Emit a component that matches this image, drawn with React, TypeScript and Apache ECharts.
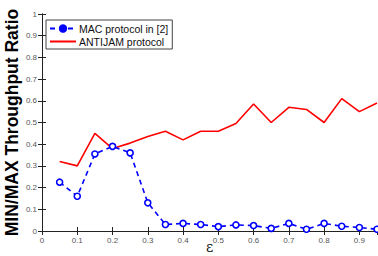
import React, { useEffect, useRef } from "react";
import * as echarts from "echarts";

const epsilon = [0.05, 0.1, 0.15, 0.2, 0.25, 0.3, 0.35, 0.4, 0.45, 0.5, 0.55, 0.6, 0.65, 0.7, 0.75, 0.8, 0.85, 0.9, 0.95];
const macValues = [0.225, 0.16, 0.355, 0.39, 0.36, 0.13, 0.03, 0.035, 0.03, 0.02, 0.028, 0.025, 0.012, 0.035, 0.008, 0.035, 0.022, 0.016, 0.008];
const antijamValues = [0.32, 0.30, 0.45, 0.38, 0.405, 0.435, 0.46, 0.42, 0.46, 0.46, 0.495, 0.585, 0.50, 0.57, 0.56, 0.50, 0.61, 0.55, 0.59];
const seriesNames = ["MAC protocol in [2]", "ANTIJAM protocol"];

export default function App() {
  const ref = useRef<HTMLDivElement>(null);
  useEffect(() => {
    if (!ref.current) return;
    const chart = echarts.init(ref.current, null, { renderer: "svg" });
    const frame = { show: true, lineStyle: { color: "#222", width: 1 } };
    const tickIn = { show: true, inside: true, length: 4, lineStyle: { color: "#222" } };
    const label = { color: "#555", fontSize: 8, fontFamily: "Liberation Sans, Arial, sans-serif" };
    chart.setOption({
      animation: false,
      backgroundColor: "#fff",
      grid: { left: 42, right: 1, top: 14, bottom: 25, containLabel: false, outerBoundsMode: "none" },
      legend: {
        left: 46,
        top: 20,
        orient: "vertical",
        data: [
          { name: seriesNames[0], itemStyle: { color: "#0000ff", borderColor: "#0000ff" } },
          { name: seriesNames[1], itemStyle: { opacity: 0 } },
        ],
        backgroundColor: "#fff",
        borderColor: "#444",
        borderWidth: 1,
        borderRadius: 0,
        padding: [3, 4, 2, 3],
        itemGap: 2,
        itemWidth: 26,
        itemHeight: 8,
        textStyle: { fontSize: 10.5, color: "#111", fontFamily: "Liberation Sans, Arial, sans-serif", padding: [0, 0, 0, -2] },
      },
      xAxis: [
        {
          type: "value",
          min: 0,
          max: 0.95,
          interval: 0.1,
          position: "bottom",
          axisLine: frame,
          axisTick: tickIn,
          splitLine: { show: false },
          axisLabel: { ...label, margin: 5, showMaxLabel: false, formatter: (v: number) => (Math.abs(v - 0.95) < 1e-6 ? "" : String(+v.toFixed(2))) },
          name: "ε",
          nameLocation: "middle",
          nameGap: 9,
          nameMoveOverlap: false,
          nameTextStyle: { fontSize: 14, color: "#111", fontFamily: "DejaVu Serif, serif" },
        },
        {
          type: "value",
          min: 0,
          max: 0.95,
          interval: 0.1,
          position: "top",
          axisLine: frame,
          axisTick: tickIn,
          splitLine: { show: false },
          axisLabel: { show: false },
        },
      ],
      yAxis: [
        {
          type: "value",
          min: 0,
          max: 1,
          interval: 0.1,
          position: "left",
          axisLine: frame,
          axisTick: tickIn,
          splitLine: { show: false },
          axisLabel: { ...label, margin: 5, formatter: (v: number) => String(+v.toFixed(1)) },
          name: "MIN/MAX Throughput Ratio",
          nameLocation: "middle",
          nameGap: 21,
          nameMoveOverlap: false,
          nameTextStyle: { fontSize: 17.5, fontWeight: "bold", color: "#000", fontFamily: "Liberation Sans, Arial, sans-serif" },
        },
        {
          type: "value",
          min: 0,
          max: 1,
          interval: 0.1,
          position: "right",
          axisLine: frame,
          axisTick: tickIn,
          splitLine: { show: false },
          axisLabel: { show: false },
        },
      ],
      series: [
        {
          name: seriesNames[0],
          type: "line",
          data: epsilon.map((e, i) => [e, macValues[i]]),
          symbol: "circle",
          symbolSize: 6,
          showSymbol: true,
          itemStyle: { color: "#ffffff", borderColor: "#0000ff", borderWidth: 1.6 },
          lineStyle: { color: "#0000ff", width: 1.6, type: [5, 4] },
          color: "#0000ff",
          z: 3,
        },
        {
          name: seriesNames[1],
          type: "line",
          data: epsilon.map((e, i) => [e, antijamValues[i]]),
          symbol: "none",
          itemStyle: { color: "#ff0000" },
          lineStyle: { color: "#ff0000", width: 1.6 },
          color: "#ff0000",
          z: 2,
        },
      ],
    });
    return () => chart.dispose();
  }, []);
  return <div ref={ref} style={{ width: 378, height: 256, position: "absolute", left: 0, top: 0 }} />;
}
